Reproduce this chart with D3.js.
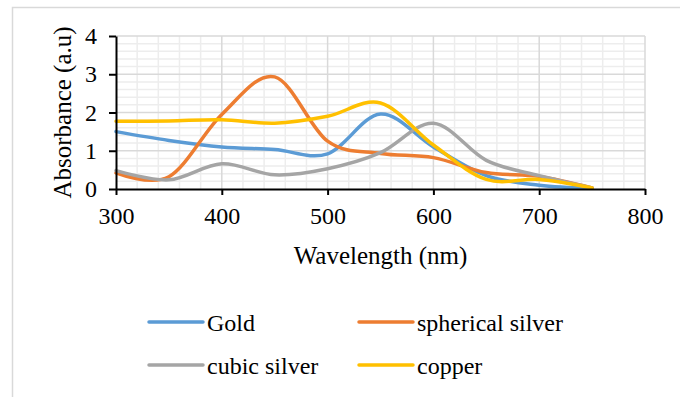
<!DOCTYPE html>
<html>
<head>
<meta charset="utf-8">
<script src="https://cdn.jsdelivr.net/npm/d3@7"></script>
<style>
  html, body { margin: 0; padding: 0; background: #fff; }
  svg { display: block; }
  svg text { font-family: "Liberation Serif", "Times New Roman", serif; fill: #000; }
</style>
</head>
<body>
<svg id="chart" width="680" height="397"></svg>
<script>
// Absorbance spectra of the nanoparticle samples
const wavelengths = [300, 350, 400, 450, 500, 550, 600, 650, 700, 750];
const gold            = [1.50, 1.27, 1.10, 1.03, 0.92, 1.96, 1.10, 0.35, 0.10, 0.02];
const sphericalSilver = [0.42, 0.32, 1.95, 2.93, 1.25, 0.93, 0.82, 0.43, 0.33, 0.03];
const cubicSilver     = [0.48, 0.24, 0.66, 0.37, 0.53, 0.95, 1.72, 0.75, 0.35, 0.03];
const copper          = [1.77, 1.78, 1.81, 1.72, 1.90, 2.25, 1.15, 0.25, 0.25, 0.03];

const seriesNames  = ["Gold", "spherical silver", "cubic silver", "copper"];
const seriesColors = ["#5B9BD5", "#ED7D31", "#A5A5A5", "#FFC000"];
const xTicks = [300, 400, 500, 600, 700, 800];
const yTicks = [0, 1, 2, 3, 4];
const xTitle = "Wavelength (nm)";
const yTitle = "Absorbance (a.u)";

const seriesValues = [gold, sphericalSilver, cubicSilver, copper];
const serif = "'Liberation Serif', 'Times New Roman', serif";

const svg = d3.select("#chart");

// chart frame
svg.append("rect")
  .attr("x", 12.5).attr("y", 7.5)
  .attr("width", 700).attr("height", 420)
  .attr("fill", "#fff").attr("stroke", "#d9d9d9").attr("stroke-width", 1.5);

const plot = { left: 116, right: 645, top: 36, bottom: 189 };

const x = d3.scaleLinear().domain([300, 800]).range([plot.left, plot.right]);
const y = d3.scaleLinear().domain([0, 4]).range([plot.bottom, plot.top]);

// minor gridlines
const minorX = d3.range(300, 800.1, 20).filter(v => v % 100 !== 0);
const minorY = d3.range(0, 4.01, 0.2).map(v => +v.toFixed(1)).filter(v => v % 1 !== 0);
const grid = svg.append("g");
grid.selectAll(".mx").data(minorX).join("line")
  .attr("x1", d => x(d)).attr("x2", d => x(d))
  .attr("y1", plot.top).attr("y2", plot.bottom)
  .attr("stroke", "#ededed").attr("stroke-width", 1.5);
grid.selectAll(".my").data(minorY).join("line")
  .attr("x1", plot.left).attr("x2", plot.right)
  .attr("y1", d => y(d)).attr("y2", d => y(d))
  .attr("stroke", "#ededed").attr("stroke-width", 1.5);

// major gridlines
grid.selectAll(".Mx").data(xTicks.slice(1)).join("line")
  .attr("x1", d => x(d)).attr("x2", d => x(d))
  .attr("y1", plot.top).attr("y2", plot.bottom)
  .attr("stroke", "#d9d9d9").attr("stroke-width", 1.5);
grid.selectAll(".My").data(yTicks.slice(1)).join("line")
  .attr("x1", plot.left).attr("x2", plot.right)
  .attr("y1", d => y(d)).attr("y2", d => y(d))
  .attr("stroke", "#d9d9d9").attr("stroke-width", 1.5);

// series lines (smoothed)
const line = d3.line()
  .x((d, i) => x(wavelengths[i]))
  .y(d => y(d))
  .curve(d3.curveCardinal.tension(0));

svg.append("g").selectAll("path").data(seriesValues).join("path")
  .attr("d", d => line(d))
  .attr("fill", "none")
  .attr("stroke", (d, i) => seriesColors[i])
  .attr("stroke-width", 3.5)
  .attr("stroke-linejoin", "round")
  .attr("stroke-linecap", "round");

// axes
const xAxis = svg.append("g")
  .attr("transform", `translate(0,${plot.bottom})`)
  .call(d3.axisBottom(x).tickValues(xTicks).tickFormat(d3.format("d"))
    .tickSizeInner(6).tickSizeOuter(0).tickPadding(12));
const yAxis = svg.append("g")
  .attr("transform", `translate(${plot.left},0)`)
  .call(d3.axisLeft(y).tickValues(yTicks).tickFormat(d3.format("d"))
    .tickSizeInner(7).tickSizeOuter(0).tickPadding(12));

[xAxis, yAxis].forEach(g => {
  g.attr("font-family", serif).attr("font-size", 24);
  g.select(".domain").attr("stroke", "#000").attr("stroke-width", 2);
  g.selectAll(".tick line").attr("stroke", "#000").attr("stroke-width", 2);
  g.selectAll(".tick text").style("font-size", "24px").attr("fill", "#000");
});

// axis titles
svg.append("text")
  .attr("x", (plot.left + plot.right) / 2).attr("y", 264)
  .attr("text-anchor", "middle").style("font-size", "25px")
  .text(xTitle);
svg.append("text")
  .attr("transform", `translate(71,${(plot.top + plot.bottom) / 2}) rotate(-90)`)
  .attr("text-anchor", "middle").style("font-size", "25px")
  .text(yTitle);

// legend
const legendPos = [[149, 322], [359, 322], [149, 365], [359, 365]];
const legend = svg.append("g").selectAll("g").data(seriesNames).join("g")
  .attr("transform", (d, i) => `translate(${legendPos[i][0]},${legendPos[i][1]})`);
legend.append("line")
  .attr("x1", 0).attr("x2", 54).attr("y1", 0).attr("y2", 0)
  .attr("stroke", (d, i) => seriesColors[i]).attr("stroke-width", 3.5)
  .attr("stroke-linecap", "round");
legend.append("text")
  .attr("x", 58).attr("y", 9)
  .style("font-size", "24px")
  .text(d => d);
</script>
</body>
</html>
